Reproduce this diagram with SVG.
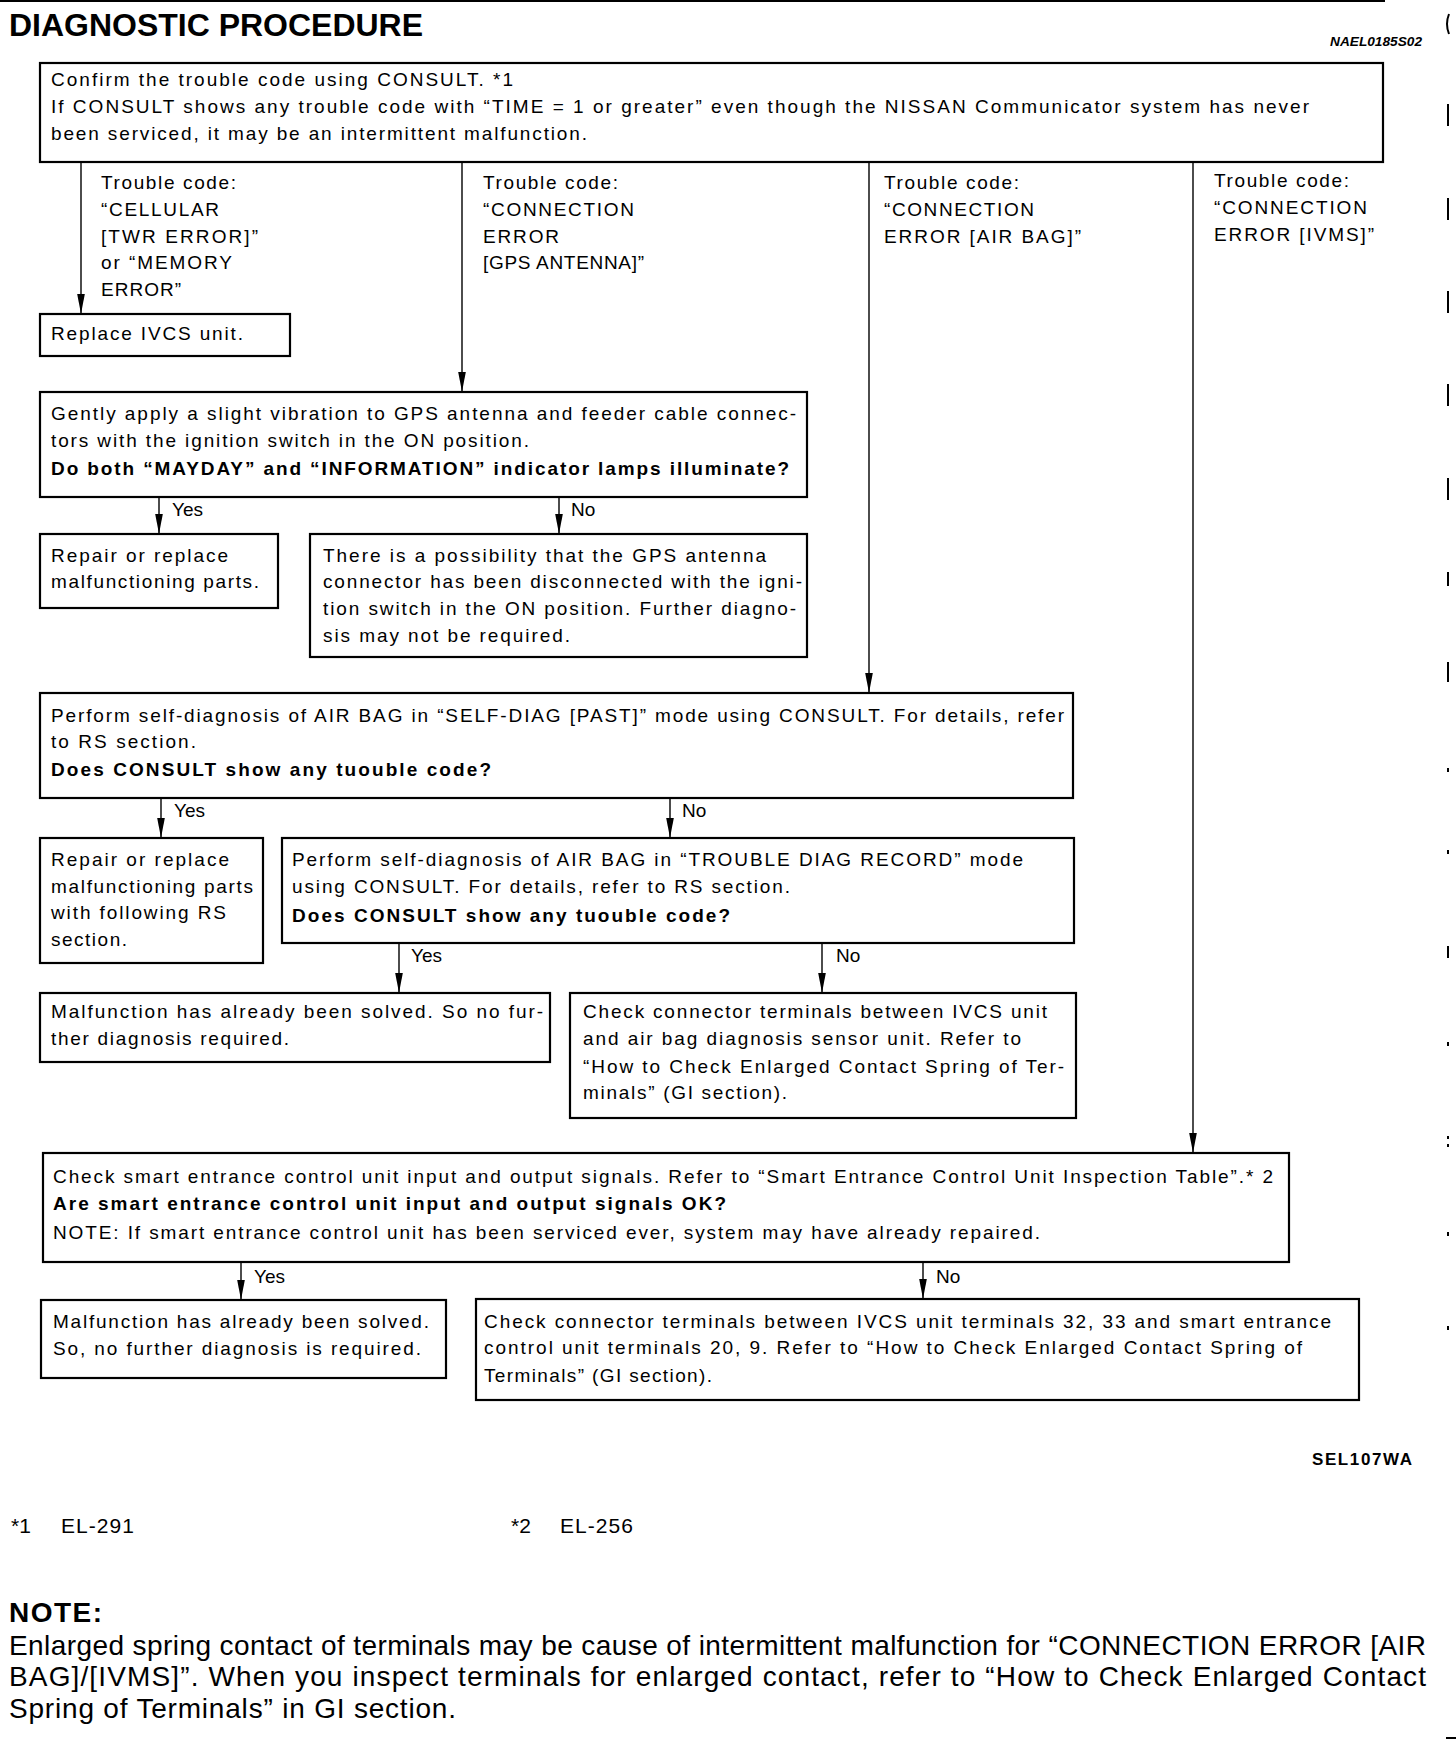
<svg xmlns="http://www.w3.org/2000/svg" width="1456" height="1742" viewBox="0 0 1456 1742">
<style>
.t{font-family:"Liberation Sans",Arial,Helvetica,sans-serif;font-size:19px;fill:#000}
.b{font-weight:bold}
.box{fill:#fff;stroke:#000;stroke-width:2.2}
.ln{stroke:#000;stroke-width:1.4;fill:none}
.em{stroke:#000;stroke-width:2;fill:none}
</style>
<defs>
<marker id="ah" viewBox="0 -4 20 8" refX="20" refY="0" markerWidth="20" markerHeight="8" markerUnits="userSpaceOnUse" orient="auto">
<path d="M0,-3.8 L20,0 L0,3.8 z" fill="#000"/>
</marker>
</defs>
<rect width="1456" height="1742" fill="#fff"/>
<line x1="0" y1="1" x2="1385" y2="1" stroke="#000" stroke-width="2"/>
<text class="t b" x="9" y="36" style="font-size:32px" textLength="414" lengthAdjust="spacingAndGlyphs">DIAGNOSTIC PROCEDURE</text>
<text class="t b" x="1330" y="46" style="font-size:12px;font-style:italic" textLength="92" lengthAdjust="spacingAndGlyphs">NAEL0185S02</text>

<g id="connectors">
<path class="ln" d="M81,162 V314" marker-end="url(#ah)"/>
<path class="ln" d="M462,162 V392" marker-end="url(#ah)"/>
<path class="ln" d="M869,162 V693" marker-end="url(#ah)"/>
<path class="ln" d="M1193,162 V1153" marker-end="url(#ah)"/>
<path class="ln" d="M159,497 V534" marker-end="url(#ah)"/>
<path class="ln" d="M559,497 V534" marker-end="url(#ah)"/>
<path class="ln" d="M161,798 V838" marker-end="url(#ah)"/>
<path class="ln" d="M670,798 V838" marker-end="url(#ah)"/>
<path class="ln" d="M399,943 V993" marker-end="url(#ah)"/>
<path class="ln" d="M822,943 V993" marker-end="url(#ah)"/>
<path class="ln" d="M241,1262 V1300" marker-end="url(#ah)"/>
<path class="ln" d="M923,1262 V1299" marker-end="url(#ah)"/>
<g id="connector-labels">
<text class="t" x="101" y="189" textLength="135" lengthAdjust="spacing">Trouble code:</text>
<text class="t" x="101" y="216" textLength="118" lengthAdjust="spacing">“CELLULAR</text>
<text class="t" x="101" y="243" textLength="157" lengthAdjust="spacing">[TWR ERROR]”</text>
<text class="t" x="101" y="269" textLength="131" lengthAdjust="spacing">or “MEMORY</text>
<text class="t" x="101" y="296" textLength="80" lengthAdjust="spacing">ERROR”</text>
<text class="t" x="483" y="189" textLength="135" lengthAdjust="spacing">Trouble code:</text>
<text class="t" x="483" y="216" textLength="151" lengthAdjust="spacing">“CONNECTION</text>
<text class="t" x="483" y="243" textLength="76" lengthAdjust="spacing">ERROR</text>
<text class="t" x="483" y="269" textLength="161" lengthAdjust="spacing">[GPS ANTENNA]”</text>
<text class="t" x="884" y="189" textLength="135" lengthAdjust="spacing">Trouble code:</text>
<text class="t" x="884" y="216" textLength="150" lengthAdjust="spacing">“CONNECTION</text>
<text class="t" x="884" y="243" textLength="197" lengthAdjust="spacing">ERROR [AIR BAG]”</text>
<text class="t" x="1214" y="187" textLength="135" lengthAdjust="spacing">Trouble code:</text>
<text class="t" x="1214" y="214" textLength="153" lengthAdjust="spacing">“CONNECTION</text>
<text class="t" x="1214" y="241" textLength="160" lengthAdjust="spacing">ERROR [IVMS]”</text>
<text class="t" x="172" y="516">Yes</text>
<text class="t" x="571" y="516">No</text>
<text class="t" x="174" y="817">Yes</text>
<text class="t" x="682" y="817">No</text>
<text class="t" x="411" y="962">Yes</text>
<text class="t" x="836" y="962">No</text>
<text class="t" x="254" y="1283">Yes</text>
<text class="t" x="936" y="1283">No</text>
</g>
</g>

<g id="n-confirm">
<rect class="box" x="40" y="63" width="1343" height="99"/>
<text class="t" x="51" y="86" textLength="462" lengthAdjust="spacing">Confirm the trouble code using CONSULT. *1</text>
<text class="t" x="51" y="113" textLength="1258" lengthAdjust="spacing">If CONSULT shows any trouble code with “TIME = 1 or greater” even though the NISSAN Communicator system has never</text>
<text class="t" x="51" y="140" textLength="536" lengthAdjust="spacing">been serviced, it may be an intermittent malfunction.</text>
</g>

<g id="n-replace">
<rect class="box" x="40" y="314" width="250" height="42"/>
<text class="t" x="51" y="340" textLength="192" lengthAdjust="spacing">Replace IVCS unit.</text>
</g>

<g id="n-gps">
<rect class="box" x="40" y="392" width="767" height="105"/>
<text class="t" x="51" y="420" textLength="745" lengthAdjust="spacing">Gently apply a slight vibration to GPS antenna and feeder cable connec-</text>
<text class="t" x="51" y="447" textLength="478" lengthAdjust="spacing">tors with the ignition switch in the ON position.</text>
<text class="t b" x="51" y="475" textLength="738" lengthAdjust="spacing">Do both “MAYDAY” and “INFORMATION” indicator lamps illuminate?</text>
</g>

<g id="n-repair1">
<rect class="box" x="40" y="534" width="238" height="74"/>
<text class="t" x="51" y="562" textLength="177" lengthAdjust="spacing">Repair or replace</text>
<text class="t" x="51" y="588" textLength="208" lengthAdjust="spacing">malfunctioning parts.</text>
</g>

<g id="n-possibility">
<rect class="box" x="310" y="534" width="497" height="123"/>
<text class="t" x="323" y="562" textLength="443" lengthAdjust="spacing">There is a possibility that the GPS antenna</text>
<text class="t" x="323" y="588" textLength="479" lengthAdjust="spacing">connector has been disconnected with the igni-</text>
<text class="t" x="323" y="615" textLength="473" lengthAdjust="spacing">tion switch in the ON position. Further diagno-</text>
<text class="t" x="323" y="642" textLength="247" lengthAdjust="spacing">sis may not be required.</text>
</g>

<g id="n-airbag-past">
<rect class="box" x="40" y="693" width="1033" height="105"/>
<text class="t" x="51" y="722" textLength="1013" lengthAdjust="spacing">Perform self-diagnosis of AIR BAG in “SELF-DIAG [PAST]” mode using CONSULT. For details, refer</text>
<text class="t" x="51" y="748" textLength="145" lengthAdjust="spacing">to RS section.</text>
<text class="t b" x="51" y="776" textLength="440" lengthAdjust="spacing">Does CONSULT show any tuouble code?</text>
</g>

<g id="n-repair2">
<rect class="box" x="40" y="838" width="223" height="125"/>
<text class="t" x="51" y="866" textLength="178" lengthAdjust="spacing">Repair or replace</text>
<text class="t" x="51" y="893" textLength="202" lengthAdjust="spacing">malfunctioning parts</text>
<text class="t" x="51" y="919" textLength="175" lengthAdjust="spacing">with following RS</text>
<text class="t" x="51" y="946" textLength="76" lengthAdjust="spacing">section.</text>
</g>

<g id="n-airbag-record">
<rect class="box" x="282" y="838" width="792" height="105"/>
<text class="t" x="292" y="866" textLength="731" lengthAdjust="spacing">Perform self-diagnosis of AIR BAG in “TROUBLE DIAG RECORD” mode</text>
<text class="t" x="292" y="893" textLength="498" lengthAdjust="spacing">using CONSULT. For details, refer to RS section.</text>
<text class="t b" x="292" y="922" textLength="438" lengthAdjust="spacing">Does CONSULT show any tuouble code?</text>
</g>

<g id="n-solved1">
<rect class="box" x="40" y="993" width="510" height="69"/>
<text class="t" x="51" y="1018" textLength="492" lengthAdjust="spacing">Malfunction has already been solved. So no fur-</text>
<text class="t" x="51" y="1045" textLength="238" lengthAdjust="spacing">ther diagnosis required.</text>
</g>

<g id="n-check-airbag">
<rect class="box" x="570" y="993" width="506" height="125"/>
<text class="t" x="583" y="1018" textLength="464" lengthAdjust="spacing">Check connector terminals between IVCS unit</text>
<text class="t" x="583" y="1045" textLength="438" lengthAdjust="spacing">and air bag diagnosis sensor unit. Refer to</text>
<text class="t" x="583" y="1073" textLength="481" lengthAdjust="spacing">“How to Check Enlarged Contact Spring of Ter-</text>
<text class="t" x="583" y="1099" textLength="204" lengthAdjust="spacing">minals” (GI section).</text>
</g>

<g id="n-smart">
<rect class="box" x="43" y="1153" width="1246" height="109"/>
<text class="t" x="53" y="1183" textLength="1220" lengthAdjust="spacing">Check smart entrance control unit input and output signals. Refer to “Smart Entrance Control Unit Inspection Table”.* 2</text>
<text class="t b" x="53" y="1210" textLength="673" lengthAdjust="spacing">Are smart entrance control unit input and output signals OK?</text>
<text class="t" x="53" y="1239" textLength="987" lengthAdjust="spacing">NOTE: If smart entrance control unit has been serviced ever, system may have already repaired.</text>
</g>

<g id="n-solved2">
<rect class="box" x="41" y="1300" width="405" height="78"/>
<text class="t" x="53" y="1328" textLength="376" lengthAdjust="spacing">Malfunction has already been solved.</text>
<text class="t" x="53" y="1355" textLength="368" lengthAdjust="spacing">So, no further diagnosis is required.</text>
</g>

<g id="n-check-smart">
<rect class="box" x="476" y="1299" width="883" height="101"/>
<text class="t" x="484" y="1328" textLength="847" lengthAdjust="spacing">Check connector terminals between IVCS unit terminals 32, 33 and smart entrance</text>
<text class="t" x="484" y="1354" textLength="818" lengthAdjust="spacing">control unit terminals 20, 9. Refer to “How to Check Enlarged Contact Spring of</text>
<text class="t" x="484" y="1382" textLength="228" lengthAdjust="spacing">Terminals” (GI section).</text>
</g>

<g id="footer">
<text class="t b" x="1312" y="1465" style="font-size:17px" textLength="100" lengthAdjust="spacing">SEL107WA</text>
<text class="t" x="11" y="1533" style="font-size:21px">*1</text>
<text class="t" x="61" y="1533" style="font-size:21px" textLength="73" lengthAdjust="spacing">EL-291</text>
<text class="t" x="511" y="1533" style="font-size:21px">*2</text>
<text class="t" x="560" y="1533" style="font-size:21px" textLength="73" lengthAdjust="spacing">EL-256</text>
<text class="t b" x="9" y="1622" style="font-size:28px" textLength="93" lengthAdjust="spacing">NOTE:</text>
<text class="t" x="9" y="1655" style="font-size:28px" textLength="1417" lengthAdjust="spacing">Enlarged spring contact of terminals may be cause of intermittent malfunction for “CONNECTION ERROR [AIR</text>
<text class="t" x="9" y="1686" style="font-size:28px" textLength="1417" lengthAdjust="spacing">BAG]/[IVMS]”. When you inspect terminals for enlarged contact, refer to “How to Check Enlarged Contact</text>
<text class="t" x="9" y="1718" style="font-size:28px" textLength="447" lengthAdjust="spacing">Spring of Terminals” in GI section.</text>
</g>

<g id="edge-marks">
<path class="em" d="M1449,14 q-4,10 0,20 M1448,104 v22 M1448,198 v22 M1448,291 v22 M1448,384 v22 M1448,478 v22 M1448,572 v14 M1448,662 v20 M1448,768 v4 M1448,850 v4 M1448,946 v12 M1448,1042 v4 M1448,1136 v3 M1448,1144 v3 M1448,1232 v4 M1448,1326 v4 M1446,1738 h10"/>
</g>
</svg>
